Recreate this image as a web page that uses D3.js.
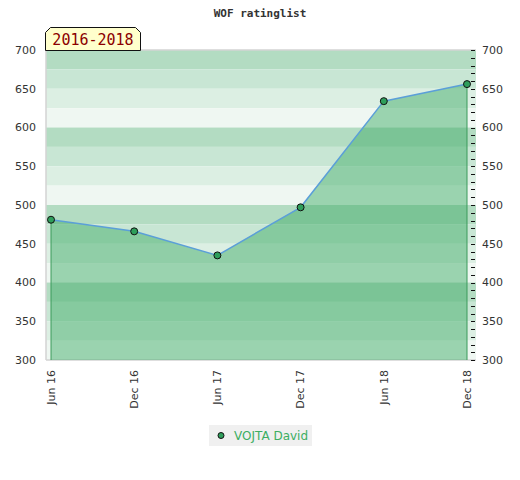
<!DOCTYPE html>
<html>
<head>
<meta charset="utf-8">
<script src="https://cdn.jsdelivr.net/npm/d3@7"></script>
<style>
  body { margin: 0; background: #fff; }
  svg { display: block; }
</style>
</head>
<body>
<svg id="chart" width="520" height="480"></svg>
<script>
// values
const periods = ["Jun 16", "Dec 16", "Jun 17", "Dec 17", "Jun 18", "Dec 18"];
const ratings = [481, 466, 435, 497, 634, 656];
const yTicks = [300, 350, 400, 450, 500, 550, 600, 650, 700];
const playerName = "VOJTA David";
const rangeLabel = "2016-2018";
const chartTitle = "WOF ratinglist";

const svg = d3.select("#chart");

const plot = { left: 46, right: 476, top: 50, bottom: 360 };

const x = d3.scalePoint().domain(periods).range([51, 467]);
const y = d3.scaleLinear().domain([300, 700]).range([plot.bottom, plot.top]);

// striped background, 25 point bands, 4 shades repeating every 100
const bandShades = ["#b3dcc2", "#c8e6d4", "#dcefe3", "#eff7f2"];
const bands = d3.range(700, 300, -25);
svg.append("g").selectAll("rect").data(bands).enter().append("rect")
    .attr("x", plot.left)
    .attr("y", d => y(d))
    .attr("width", plot.right - plot.left)
    .attr("height", d => y(d - 25) - y(d))
    .attr("fill", (d, i) => bandShades[i % 4]);

// frame (left, top, bottom)
svg.append("path")
    .attr("d", `M${plot.left},${plot.bottom}V${plot.top}H${plot.right}M${plot.left},${plot.bottom}H${plot.right}`)
    .attr("fill", "none")
    .attr("stroke", "#d4d4d4")
    .attr("stroke-width", 1.5);

const data = periods.map((p, i) => ({ p: p, v: ratings[i] }));

// area under the rating line
const area = d3.area().x(d => x(d.p)).y0(plot.bottom).y1(d => y(d.v));
svg.append("path").datum(data)
    .attr("d", area)
    .attr("fill", "rgb(59,171,100)")
    .attr("fill-opacity", 0.47);

// drop lines at both ends
svg.append("g").selectAll("line").data([data[0], data[data.length - 1]]).enter().append("line")
    .attr("x1", d => x(d.p)).attr("x2", d => x(d.p))
    .attr("y1", d => y(d.v)).attr("y2", plot.bottom)
    .attr("stroke", "#3a9a5a")
    .attr("stroke-width", 1);

const line = d3.line().x(d => x(d.p)).y(d => y(d.v));
svg.append("path").datum(data)
    .attr("d", line)
    .attr("fill", "none")
    .attr("stroke", "#5b9fd8")
    .attr("stroke-width", 1.5);

svg.append("g").selectAll("circle").data(data).enter().append("circle")
    .attr("cx", d => x(d.p))
    .attr("cy", d => y(d.v))
    .attr("r", 3.5)
    .attr("fill", "#2e9e5b")
    .attr("stroke", "#111")
    .attr("stroke-width", 1);

// right side minor ticks every 10
svg.append("g").selectAll("line").data(d3.range(300, 701, 10)).enter().append("line")
    .attr("x1", 471).attr("x2", 475)
    .attr("y1", d => Math.round(y(d)) + 0.5).attr("y2", d => Math.round(y(d)) + 0.5)
    .attr("stroke", "#111")
    .attr("stroke-width", 1);

// y labels both sides
const font = "DejaVu Sans, sans-serif";
svg.append("g").selectAll("text").data(yTicks).enter().append("text")
    .attr("x", 36).attr("y", d => y(d))
    .attr("dy", "0.35em")
    .attr("text-anchor", "end")
    .attr("font-family", font).attr("font-size", 11).attr("fill", "#333")
    .text(d => d);
svg.append("g").selectAll("text").data(yTicks).enter().append("text")
    .attr("x", 482).attr("y", d => y(d))
    .attr("dy", "0.35em")
    .attr("font-family", font).attr("font-size", 11).attr("fill", "#333")
    .text(d => d);

// x labels rotated
svg.append("g").selectAll("text").data(periods).enter().append("text")
    .attr("transform", d => `translate(${x(d)},370) rotate(-90)`)
    .attr("dy", "0.35em")
    .attr("text-anchor", "end")
    .attr("font-family", font).attr("font-size", 11).attr("fill", "#333")
    .text(d => d);

// title
svg.append("text")
    .attr("x", 260).attr("y", 17)
    .attr("text-anchor", "middle")
    .attr("font-family", "DejaVu Sans Mono, monospace")
    .attr("font-size", 11).attr("font-weight", "bold").attr("fill", "#333")
    .text(chartTitle);

// period tag
svg.append("path")
    .attr("d", "M45.5,50.5V32.5L50.5,27.5H135.5L140.5,32.5V50.5Z")
    .attr("fill", "#ffffcc")
    .attr("stroke", "#111")
    .attr("stroke-width", 1);
svg.append("text")
    .attr("x", 93).attr("y", 45)
    .attr("text-anchor", "middle")
    .attr("font-family", "DejaVu Sans Mono, monospace")
    .attr("font-size", 15).attr("fill", "#8b0000")
    .text(rangeLabel);

// legend
const lg = svg.append("g").attr("transform", "translate(209,425)");
lg.append("rect").attr("width", 103).attr("height", 21).attr("fill", "#f0f0f0");
lg.append("circle").attr("cx", 12).attr("cy", 10.5).attr("r", 3)
    .attr("fill", "#2e9e5b").attr("stroke", "#111").attr("stroke-width", 1);
lg.append("text").attr("x", 25).attr("y", 10.5).attr("dy", "0.35em")
    .attr("font-family", font).attr("font-size", 12).attr("fill", "#3cae62")
    .text(playerName);
</script>
</body>
</html>
